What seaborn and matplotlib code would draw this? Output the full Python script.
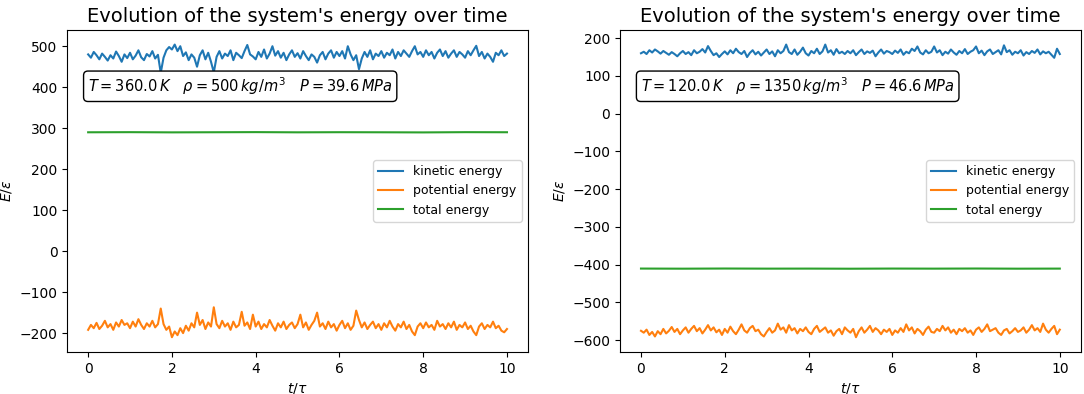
import numpy as np
import matplotlib
matplotlib.use('Agg')
import matplotlib.pyplot as plt
import seaborn as sns

# Energies (151 samples for t in [0, 10])
kin_left = [
    480, 472, 486, 478, 468, 482, 474, 465, 478, 470, 487, 476, 462, 480, 471,
    484, 468, 477, 490, 473, 466, 481, 475, 488, 470, 479, 435, 472, 490, 498,
    492, 504, 488, 500, 476, 485, 466, 480, 472, 450, 478, 490, 468, 484, 462,
    436, 474, 488, 470, 482, 476, 490, 466, 484, 478, 471, 488, 503, 480, 475,
    468, 486, 474, 492, 470, 482, 500, 477, 488, 472, 484, 466, 480, 490, 474,
    483, 470, 488, 476, 466, 480, 474, 460, 478, 486, 468, 482, 490, 472, 486,
    476, 488, 470, 500, 480, 466, 478, 444, 470, 486, 474, 490, 468, 482, 476,
    488, 472, 484, 478, 492, 470, 486, 476, 490, 482, 474, 488, 500, 480, 486,
    474, 490, 478, 486, 470, 484, 492, 476, 488, 472, 482, 490, 474, 486, 480,
    472, 488, 478, 490, 501, 476, 486, 470, 482, 474, 462, 484, 478, 490, 476,
    482]
pot_left = [
    -192, -180, -188, -175, -190, -182, -170, -186, -178, -192, -174, -184, -168, -180, -176,
    -188, -172, -184, -166, -180, -190, -176, -184, -170, -186, -178, -140, -178, -192, -184,
    -210, -196, -205, -188, -200, -182, -194, -176, -186, -150, -180, -168, -190, -174, -184,
    -137, -178, -188, -170, -184, -176, -192, -172, -186, -180, -148, -182, -174, -190, -155,
    -184, -172, -190, -178, -186, -168, -182, -194, -176, -186, -172, -190, -180, -174, -188,
    -178, -155, -186, -174, -192, -180, -170, -150, -184, -176, -190, -172, -186, -178, -194,
    -180, -170, -188, -176, -192, -182, -145, -168, -186, -174, -190, -180, -172, -188, -178,
    -192, -176, -186, -170, -184, -194, -178, -186, -172, -190, -180, -196, -205, -184, -176,
    -188, -174, -186, -180, -192, -170, -184, -178, -190, -176, -186, -172, -192, -180, -186,
    -174, -190, -182, -196, -205, -184, -176, -190, -180, -186, -172, -188, -182, -194, -198,
    -190]
tot_left = [290.0, 290.3, 289.8, 290.1, 290.4, 289.9, 290.2, 290.0, 289.7, 290.3, 290.1]

kin_right = [
    160, 164, 158, 168, 162, 170, 165, 159, 166, 161, 156, 163, 158, 152, 160,
    166, 158, 163, 155, 168, 160, 164, 171, 162, 179, 166, 155, 160, 150, 158,
    165, 157, 168, 160, 172, 163, 158, 166, 150, 161, 168, 157, 164, 154, 162,
    170, 158, 165, 152, 168, 160, 166, 183, 163, 158, 170, 156, 164, 175, 160,
    154, 166, 160, 172, 158, 165, 183, 162, 168, 156, 171, 160, 164, 158, 166,
    160, 168, 155, 163, 170, 158, 165, 161, 167, 152, 162, 170, 159, 166, 163,
    158, 167, 161, 170, 156, 164, 160, 172, 166, 178, 162, 157, 168, 160, 164,
    178, 162, 168, 155, 164, 159, 170, 162, 156, 166, 160, 171, 158, 164, 168,
    178, 160, 167, 155, 165, 170, 158, 163, 168, 157, 181, 163, 168, 156, 164,
    160, 168, 154, 163, 158, 166, 161, 170, 157, 165, 160, 164, 156, 148, 172,
    158]
pot_right = [
    -575, -580, -572, -586, -578, -590, -576, -584, -570, -582, -575, -565, -578, -570, -584,
    -574, -566, -580, -570, -562, -576, -568, -582, -572, -560, -574, -566, -579, -572, -586,
    -570, -580, -564, -576, -584, -572, -558, -574, -580, -568, -562, -576, -572, -584, -590,
    -578, -568, -580, -574, -556, -572, -566, -580, -560, -574, -568, -582, -570, -576, -566,
    -578, -584, -570, -562, -578, -572, -566, -580, -574, -588, -576, -570, -584, -566, -574,
    -580, -570, -592, -576, -566, -580, -572, -562, -578, -568, -574, -584, -572, -578, -570,
    -586, -574, -580, -568, -578, -558, -574, -566, -582, -570, -576, -586, -572, -564, -578,
    -580, -570, -576, -562, -574, -566, -580, -572, -584, -570, -576, -568, -580, -574, -586,
    -572, -566, -578, -570, -558, -576, -572, -568, -580, -586, -574, -570, -582, -576, -568,
    -578, -574, -566, -580, -572, -560, -574, -568, -578, -556, -572, -580, -570, -562, -584,
    -572]
tot_right = [-410.2, -410.5, -410.1, -410.4, -410.3, -410.6, -410.2, -410.4, -410.1, -410.5, -410.3]

labels = [r'$T = 360.0\,K \quad \rho = 500\,kg/m^3 \quad P = 39.6\,MPa$',
          r'$T = 120.0\,K \quad \rho = 1350\,kg/m^3 \quad P = 46.6\,MPa$']

fig = plt.figure(figsize=(10.84, 3.94), dpi=100)
ax1 = fig.add_axes([0.062, 0.107, 0.425, 0.817])
ax2 = fig.add_axes([0.572, 0.107, 0.425, 0.817])

panels = [(ax1, kin_left, pot_left, tot_left, labels[0]),
          (ax2, kin_right, pot_right, tot_right, labels[1])]

for ax, kin, pot, tot, txt in panels:
    t = np.linspace(0, 10, len(kin))
    t_tot = np.linspace(0, 10, len(tot))
    sns.lineplot(x=t, y=kin, ax=ax, label='kinetic energy')
    sns.lineplot(x=t, y=pot, ax=ax, label='potential energy')
    sns.lineplot(x=t_tot, y=tot, ax=ax, label='total energy')
    ax.set_title("Evolution of the system's energy over time", fontsize=14)
    ax.set_xlabel(r'$t/\tau$')
    ax.set_ylabel(r'$E/\varepsilon$')
    ax.legend(loc='center right', fontsize=9)
    ax.text(0.045, 0.825, txt, transform=ax.transAxes, fontsize=10.5, va='center',
            bbox=dict(boxstyle='round', facecolor='white', edgecolor='black'))

plt.savefig('out.png', dpi=100)
plt.close()
